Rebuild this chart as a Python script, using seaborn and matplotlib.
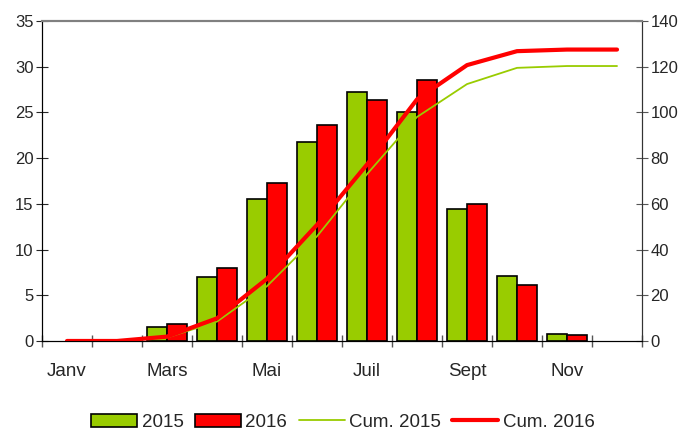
import numpy as np
import pandas as pd
import matplotlib
matplotlib.use("Agg")
import matplotlib.pyplot as plt
import seaborn as sns
from matplotlib.patches import Patch
from matplotlib.lines import Line2D

months = ["Janv", "Fév", "Mars", "Avr", "Mai", "Juin", "Juil", "Août", "Sept", "Oct", "Nov", "Déc"]
vals_2015 = [0, 0, 1.5, 7.0, 15.5, 21.8, 27.2, 25.0, 14.4, 7.1, 0.8, 0]
vals_2016 = [0, 0, 1.9, 8.0, 17.3, 23.6, 26.4, 28.5, 15.0, 6.1, 0.7, 0]
cum_2015 = [0, 0, 1.5, 8.5, 24.0, 45.8, 73.0, 98.0, 112.4, 119.5, 120.3, 120.3]
cum_2016 = [0, 0, 1.9, 9.9, 27.2, 50.8, 77.2, 105.7, 120.7, 126.8, 127.5, 127.5]
tick_labels = ["Janv", "Mars", "Mai", "Juil", "Sept", "Nov"]

green = "#99CC00"
red = "#FF0000"

sns.set_style("white")
plt.rcParams['font.family'] = ['Liberation Sans', 'DejaVu Sans']

df = pd.DataFrame({
    "mois": months * 2,
    "valeur": vals_2015 + vals_2016,
    "annee": ["2015"] * 12 + ["2016"] * 12,
})
# empty months have no bar at all in the original
df["valeur"] = df["valeur"].replace(0, np.nan)

fig = plt.figure(figsize=(6.86, 4.32), dpi=100)
ax = fig.add_axes([0.0612, 0.2107, 0.8747, 0.7407])

sns.barplot(data=df, x="mois", y="valeur", hue="annee", order=months,
            palette={"2015": green, "2016": red}, edgecolor="black",
            linewidth=1.2, saturation=1, ax=ax, legend=False)

ax2 = ax.twinx()
x = np.arange(len(months))
sns.lineplot(x=x, y=cum_2015, color=green, linewidth=1.3, ax=ax2,
             solid_capstyle="round")
sns.lineplot(x=x, y=cum_2016, color=red, linewidth=3, ax=ax2,
             solid_capstyle="round")

ax.set_xlim(-0.5, 11.5)
ax.set_ylim(0, 35)
ax2.set_ylim(0, 140)
ax.set_yticks(np.arange(0, 36, 5))
ax2.set_yticks(np.arange(0, 141, 20))

ax.set_xticks(np.arange(0, 12, 2))
ax.set_xticklabels(tick_labels, fontsize=13.5)
ax.set_xticks(np.arange(-0.5, 12, 1), minor=True)
ax.tick_params(axis="x", which="major", bottom=True, length=0, pad=16)
ax.tick_params(axis="x", which="minor", bottom=True, direction="inout",
               length=8, width=1, color="#555555")
ax.tick_params(axis="y", left=True, direction="inout", length=8,
               labelsize=12, pad=2)
ax2.tick_params(axis="y", right=True, direction="inout", length=8,
                labelsize=12, pad=2, color="#555555")
ax.set_xlabel("")
ax.set_ylabel("")
ax2.set_ylabel("")

for a in (ax, ax2):
    for s in a.spines.values():
        s.set_visible(True)
    a.spines["top"].set_color("#808080")
    a.spines["top"].set_linewidth(1.5)
    a.spines["left"].set_color("black")
    a.spines["right"].set_color("#333333")
    a.spines["bottom"].set_color("black")

handles = [
    Patch(facecolor=green, edgecolor="black", linewidth=1.2),
    Patch(facecolor=red, edgecolor="black", linewidth=1.2),
    Line2D([], [], color=green, linewidth=1.3),
    Line2D([], [], color=red, linewidth=3, solid_capstyle="round"),
]
labels = ["2015", "2016", "Cum. 2015", "Cum. 2016"]
fig.legend(handles, labels, loc="center", ncol=4, frameon=False,
           fontsize=13.5, bbox_to_anchor=(0.5, 0.022), handlelength=2.45,
           handletextpad=0.25, columnspacing=0.6)

fig.savefig("out.png", dpi=100)
